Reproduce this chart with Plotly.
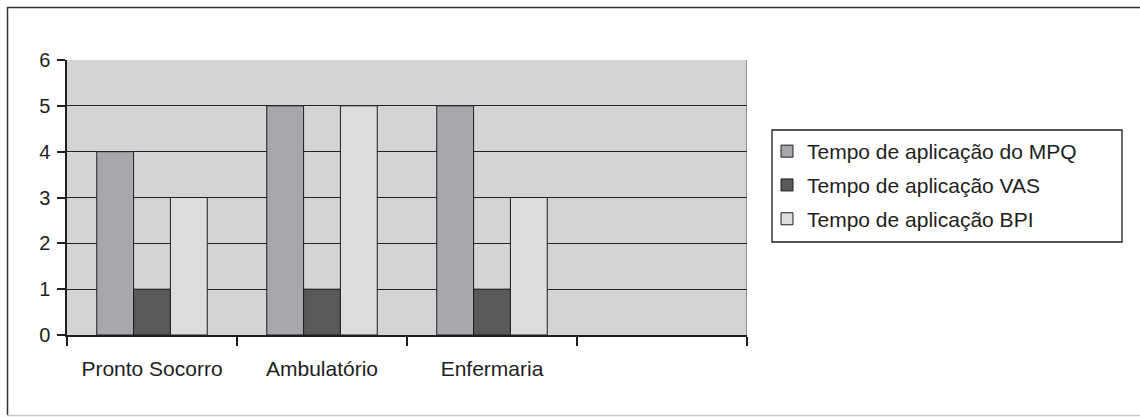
import plotly.graph_objects as go

# Categories and series values
categories = ["Pronto Socorro", "Ambulatório", "Enfermaria"]
mpq = [4, 5, 5]
vas = [1, 1, 1]
bpi = [3, 5, 3]
series_names = [
    "Tempo de aplicação do MPQ",
    "Tempo de aplicação VAS",
    "Tempo de aplicação BPI",
]
y_ticks = [0, 1, 2, 3, 4, 5, 6]

colors = ["#a7a8ab", "#58595b", "#dcdddf"]
FONT = "Liberation Sans, Arial, sans-serif"
INK = "#1e1e1e"

W, H = 1140, 417
L, R, T, B = 67, 747, 60, 335  # plot area in pixels

x_pos = list(range(len(categories)))
n_slots = len(categories) + 1  # one empty slot on the right
boundaries = [k - 0.5 for k in range(n_slots + 1)]


def px_x(px):
    return (px - L) / (R - L)


def px_y(py):
    return (B - py) / (B - T)


fig = go.Figure()
for i, (name, vals) in enumerate(zip(series_names, [mpq, vas, bpi])):
    fig.add_trace(go.Bar(
        x=x_pos, y=vals, name=name,
        marker=dict(color=colors[i], line=dict(color=INK, width=1)),
        legendgroup=f"g{i}",
    ))

fig.update_layout(
    width=W, height=H,
    margin=dict(l=L, r=W - R, t=T, b=H - B, pad=0),
    paper_bgcolor="white",
    plot_bgcolor="#d3d4d6",
    barmode="group",
    bargap=0.35,
    bargroupgap=0,
    font=dict(family=FONT, size=20, color=INK),
    xaxis=dict(
        range=[-0.5, n_slots - 0.5],
        tickvals=x_pos, ticktext=categories,
        ticks="", showgrid=False,
        showline=True, linecolor=INK, linewidth=1.5,
        tickfont=dict(size=21),
        ticklabelstandoff=14,
        minor=dict(tickvals=boundaries, ticks="outside", ticklen=9,
                   tickcolor=INK, tickwidth=1.5, showgrid=False),
    ),
    yaxis=dict(
        range=[0, 6], tickvals=y_ticks,
        ticks="outside", ticklen=8, tickcolor=INK, tickwidth=1.5,
        showline=True, linecolor=INK, linewidth=1.5,
        showgrid=True, gridcolor="#222222", gridwidth=1.3,
        zeroline=False,
        tickfont=dict(size=20),
        ticklabelstandoff=3,
    ),
    legend=dict(
        x=px_x(767), y=px_y(131),
        xanchor="left", yanchor="top",
        borderwidth=0,
        bgcolor="rgba(0,0,0,0)",
        font=dict(size=21, family=FONT),
        tracegroupgap=3.5,
        itemwidth=30,
    ),
)

# Right edge of the plot area
fig.add_shape(type="line", xref="x", yref="y",
              x0=n_slots - 0.5, x1=n_slots - 0.5, y0=0, y1=6,
              line=dict(color="#555", width=1))

# Legend frame
fig.add_shape(type="rect", xref="paper", yref="paper",
              x0=px_x(772), x1=px_x(1122), y0=px_y(242), y1=px_y(130),
              line=dict(color=INK, width=1.3), fillcolor="white",
              layer="below")

# Outer frame of the figure: dark left/top edges, light bottom edge
fig.add_shape(type="line", xref="paper", yref="paper",
              x0=px_x(7.5), x1=px_x(7.5), y0=px_y(7), y1=px_y(415),
              line=dict(color="#333", width=1.5))
fig.add_shape(type="line", xref="paper", yref="paper",
              x0=px_x(7), x1=px_x(1145), y0=px_y(7.5), y1=px_y(7.5),
              line=dict(color="#333", width=1.5))
fig.add_shape(type="line", xref="paper", yref="paper",
              x0=px_x(7), x1=px_x(1145), y0=px_y(415.5), y1=px_y(415.5),
              line=dict(color="#c8c8c8", width=1.5))

fig.write_html("out.html")
